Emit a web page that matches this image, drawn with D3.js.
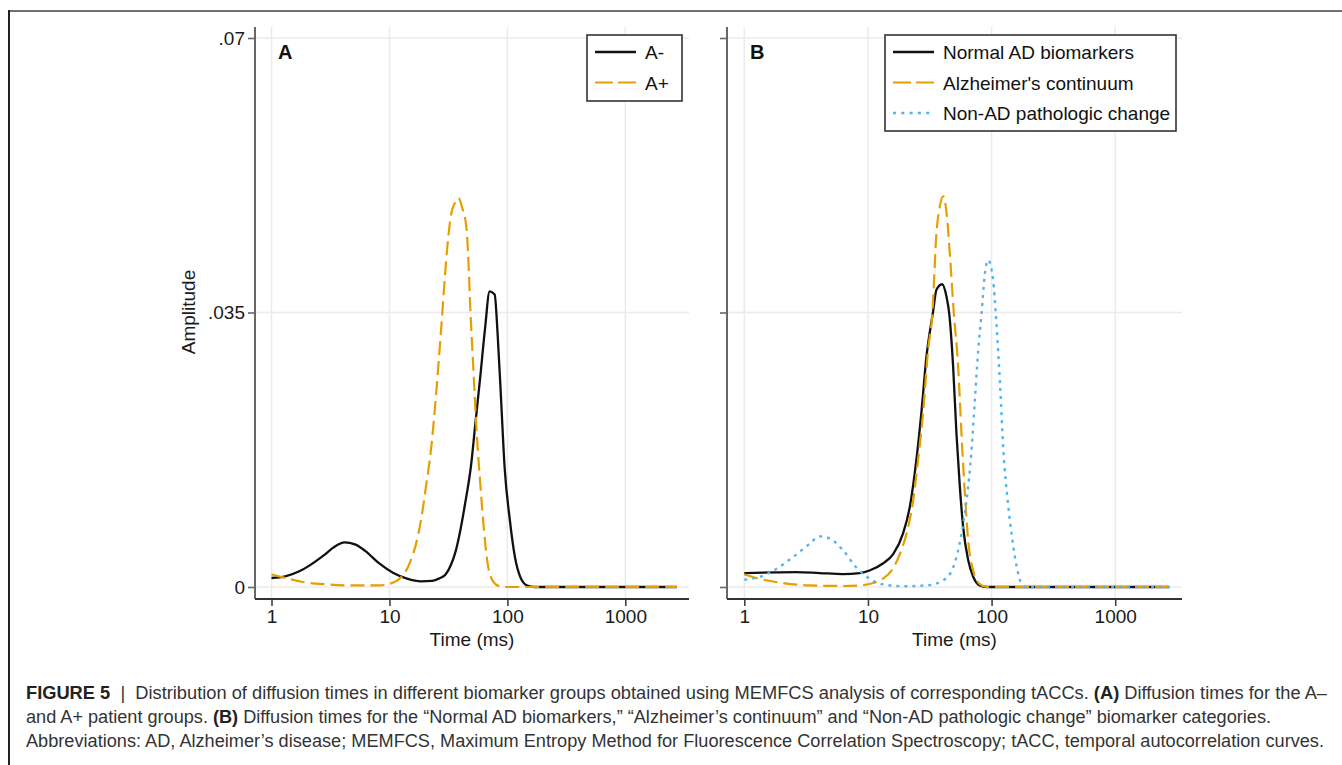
<!DOCTYPE html>
<html>
<head>
<meta charset="utf-8">
<script src="https://cdn.jsdelivr.net/npm/d3@7"></script>
<style>
  html, body { margin: 0; padding: 0; background: #fff; }
  svg { display: block; }
  text { font-family: "Liberation Sans", Arial, Helvetica, sans-serif; }
</style>
</head>
<body>
<svg id="fig" width="1342" height="765"></svg>
<script>
// ---- axis ticks ----
const xTicks = [1, 10, 100, 1000];
const xTickLabels = ["1", "10", "100", "1000"];
const yTicks = [0, 0.035, 0.07];
const yTickLabels = ["0", ".035", ".07"];

// ---- panel A: diffusion-time distributions, [time (ms), amplitude] ----
const aNegative = [
  [1, 0.00115], [1.31, 0.00136], [1.72, 0.0020], [2.11, 0.00276], [2.77, 0.00403],
  [3.40, 0.0051], [4.16, 0.00568], [5.1, 0.00543], [6.26, 0.00458], [8.2, 0.0030],
  [10.8, 0.00178], [14.1, 0.00106], [18.5, 0.00072], [23, 0.00078], [26.5, 0.0011],
  [29.9, 0.0016], [33, 0.0027], [36.5, 0.0046], [40, 0.0073], [44, 0.0108],
  [49, 0.0153], [53.5, 0.0208], [58.7, 0.0266], [64.7, 0.0330], [70.7, 0.0377],
  [78, 0.0373], [82.7, 0.0322], [88.5, 0.0238], [94.7, 0.0153], [105, 0.0085],
  [116, 0.0038], [128.5, 0.0013], [147, 0.0002], [169, 0], [300, 0], [600, 0],
  [1200, 0], [2735, 0]
];
const aPositive = [
  [1, 0.0016], [1.31, 0.00115], [1.84, 0.00064], [2.97, 0.00034], [4.77, 0.0002],
  [8.2, 0.0002], [10, 0.0004], [11.8, 0.0009], [13.5, 0.0018], [15, 0.0032],
  [16.8, 0.0055], [18.5, 0.0085], [20.5, 0.0130], [22.5, 0.0175], [25, 0.0250],
  [27.4, 0.0328], [30.8, 0.0430], [33.3, 0.0475], [36, 0.0490], [38.5, 0.0496],
  [41.3, 0.0484], [44.9, 0.0459], [46.4, 0.0426], [48.7, 0.0349], [51.4, 0.028],
  [55, 0.0195], [58.9, 0.0132], [63, 0.0076], [67.4, 0.0034], [74.7, 0.00085],
  [85.5, 0.0001], [95, 0], [300, 0], [600, 0], [1200, 0], [2735, 0]
];

// ---- panel B: biomarker categories ----
const normalAD = [
  [1, 0.00178], [1.81, 0.00187], [2.62, 0.0019], [4.06, 0.00178], [6.27, 0.00165],
  [8.56, 0.00178], [10.3, 0.0021], [13.2, 0.003], [16, 0.0042], [19.2, 0.0068],
  [21.8, 0.0102], [24.6, 0.0161], [27, 0.0221], [29.7, 0.0293], [33.7, 0.0352],
  [35.8, 0.0379], [39.8, 0.0386], [43.2, 0.037], [45.4, 0.0349], [48.9, 0.028],
  [52, 0.0195], [55.4, 0.0127], [58.9, 0.0076], [64.7, 0.0034], [71, 0.0013],
  [80, 0.0002], [91, 0], [300, 0], [600, 0], [1200, 0], [2735, 0]
];
const alzContinuum = [
  [1, 0.0016], [1.32, 0.00106], [2.05, 0.0005], [3.37, 0.0002], [6.27, 0.00013],
  [8.56, 0.0002], [11, 0.0005], [13.2, 0.00106], [15.5, 0.0021], [18.1, 0.0042],
  [20.5, 0.0068], [23.2, 0.011], [25.4, 0.0161], [27.9, 0.0221], [30.6, 0.0301],
  [33.2, 0.0349], [35.8, 0.0451], [38.1, 0.0485], [40.6, 0.0498], [43.7, 0.047],
  [45.9, 0.0426], [49.5, 0.0349], [53.7, 0.028], [57.1, 0.0195], [60.8, 0.0119],
  [64.7, 0.0059], [71, 0.0021], [80, 0.0004], [91, 0], [300, 0], [600, 0],
  [1200, 0], [2735, 0]
];
const nonAD = [
  [1, 0.00093], [1.32, 0.00127], [1.81, 0.0023], [2.47, 0.0038], [3.37, 0.0055],
  [4.06, 0.00645], [4.89, 0.0062], [6.27, 0.0047], [8.04, 0.0025], [10.3, 0.00106],
  [13.2, 0.00034], [19.2, 0.0001], [29.7, 0.0002], [40.6, 0.00085], [48.9, 0.0025],
  [57.1, 0.0068], [62.7, 0.011], [68.8, 0.0174], [73.2, 0.0238], [77.9, 0.0301],
  [83, 0.0349], [88.3, 0.04], [94, 0.0417], [100, 0.0404], [103, 0.0391],
  [108, 0.0349], [117, 0.0259], [124.5, 0.0174], [135, 0.011], [145, 0.0068],
  [160, 0.0025], [175, 0.0004], [190, 0], [400, 0], [800, 0], [1500, 0], [2735, 0]
];

const legendA = ["A-", "A+"];
const legendB = ["Normal AD biomarkers", "Alzheimer's continuum", "Non-AD pathologic change"];

// ---- caption lines: [text, bold] segments ----
const captionLines = [
  [["FIGURE 5", true], ["  |  ", false], ["Distribution of diffusion times in different biomarker groups obtained using MEMFCS analysis of corresponding tACCs. ", false], ["(A)", true], [" Diffusion times for the A\u2013", false]],
  [["and A+ patient groups. ", false], ["(B)", true], [" Diffusion times for the \u201cNormal AD biomarkers,\u201d \u201cAlzheimer\u2019s continuum\u201d and \u201cNon-AD pathologic change\u201d biomarker categories.", false]],
  [["Abbreviations: AD, Alzheimer\u2019s disease; MEMFCS, Maximum Entropy Method for Fluorescence Correlation Spectroscopy; tACC, temporal autocorrelation curves.", false]]
];

// ---- styling ----
const styles = {
  solid:  { color: "#111111", dash: null,    legendDash: null,   width: 2.3 },
  dashed: { color: "#E69F00", dash: "14 6",  legendDash: "18 5", width: 2.2 },
  dotted: { color: "#56B4E9", dash: "3 5",   legendDash: "3 5.3", width: 2.4 }
};

const svg = d3.select("#fig");
svg.append("rect").attr("width", 1342).attr("height", 765).attr("fill", "#fff");

// page frame
svg.append("line").attr("x1", 9).attr("x2", 1342).attr("y1", 11).attr("y2", 11)
  .attr("stroke", "#707070").attr("stroke-width", 2);
svg.append("line").attr("x1", 9).attr("x2", 9).attr("y1", 10).attr("y2", 765)
  .attr("stroke", "#222").attr("stroke-width", 2);

const plotTop = 27, plotBottom = 599;
const xDomain = [Math.pow(10, -0.14), Math.pow(10, 3.54)];
const y = d3.scaleLinear().domain([-0.00153, 0.0714]).range([plotBottom, plotTop]);

const FONT = 19;

function drawPanel(cfg) {
  const g = svg.append("g");
  const x = d3.scaleLog().domain(xDomain).range([cfg.left, cfg.right]);

  // grid
  g.selectAll(".gx").data(xTicks).join("line")
    .attr("x1", d => x(d)).attr("x2", d => x(d))
    .attr("y1", plotTop).attr("y2", plotBottom)
    .attr("stroke", "#ebebeb").attr("stroke-width", 1.5);
  g.selectAll(".gy").data(yTicks).join("line")
    .attr("x1", cfg.left).attr("x2", cfg.right)
    .attr("y1", d => y(d)).attr("y2", d => y(d))
    .attr("stroke", "#ebebeb").attr("stroke-width", 1.5);

  // y axis
  const yAxis = d3.axisLeft(y).tickValues(yTicks).tickSize(7).tickPadding(3)
    .tickFormat((d, i) => cfg.yLabels ? yTickLabels[i] : "");
  const ya = g.append("g").attr("transform", `translate(${cfg.left},0)`).call(yAxis);
  ya.select(".domain").remove();
  ya.append("line").attr("x1", 0).attr("x2", 0).attr("y1", plotTop).attr("y2", plotBottom)
    .attr("stroke", "#666").attr("stroke-width", 2);
  ya.selectAll(".tick line").attr("stroke", "#666").attr("stroke-width", 1.6);
  ya.selectAll(".tick text").attr("font-size", FONT).attr("fill", "#1a1a1a")
    .attr("font-family", "Liberation Sans, Arial, sans-serif");

  // x axis
  const xAxis = d3.axisBottom(x).tickValues(xTicks).tickSize(7).tickPadding(4)
    .tickFormat((d, i) => xTickLabels[i]);
  const xa = g.append("g").attr("transform", `translate(0,${plotBottom})`).call(xAxis);
  xa.select(".domain").remove();
  xa.append("line").attr("x1", cfg.left).attr("x2", cfg.right).attr("y1", 0).attr("y2", 0)
    .attr("stroke", "#333").attr("stroke-width", 2);
  xa.selectAll(".tick line").attr("stroke", "#444").attr("stroke-width", 1.6);
  xa.selectAll(".tick text").attr("font-size", FONT).attr("fill", "#1a1a1a")
    .attr("font-family", "Liberation Sans, Arial, sans-serif");

  // axis title
  g.append("text").attr("x", (cfg.left + cfg.right) / 2).attr("y", 646)
    .attr("text-anchor", "middle").attr("font-size", FONT).attr("fill", "#1a1a1a")
    .text("Time (ms)");

  // panel letter
  g.append("text").attr("x", cfg.left + cfg.letterDx).attr("y", 59)
    .attr("font-size", 20).attr("font-weight", "bold").attr("fill", "#111")
    .text(cfg.letter);

  // curves
  const line = d3.line().x(d => x(d[0])).y(d => y(d[1])).curve(d3.curveMonotoneX);
  cfg.series.forEach(s => {
    const st = styles[s.style];
    g.append("path").datum(s.data)
      .attr("d", line)
      .attr("fill", "none")
      .attr("stroke", st.color)
      .attr("stroke-width", st.width)
      .attr("stroke-linejoin", "round")
      .attr("stroke-dasharray", st.dash);
  });

  // legend
  const lg = cfg.legend;
  g.append("rect").attr("x", lg.x).attr("y", lg.y).attr("width", lg.w).attr("height", lg.h)
    .attr("fill", "#fff").attr("stroke", "#333").attr("stroke-width", 1.6);
  cfg.series.forEach((s, i) => {
    const st = styles[s.style];
    const yy = lg.y + 17 + i * 30.5;
    g.append("line").attr("x1", lg.x + 8).attr("x2", lg.x + 49)
      .attr("y1", yy).attr("y2", yy)
      .attr("stroke", st.color).attr("stroke-width", st.width)
      .attr("stroke-dasharray", st.legendDash);
    g.append("text").attr("x", lg.x + 58).attr("y", yy + 7)
      .attr("font-size", FONT).attr("fill", "#111").text(s.label);
  });
}

drawPanel({
  left: 255, right: 689, yLabels: true, letter: "A", letterDx: 23,
  legend: { x: 587, y: 35, w: 95, h: 66 },
  series: [
    { data: aNegative, style: "solid", label: legendA[0] },
    { data: aPositive, style: "dashed", label: legendA[1] }
  ]
});
drawPanel({
  left: 727, right: 1182, yLabels: false, letter: "B", letterDx: 23,
  legend: { x: 885, y: 35, w: 291, h: 96 },
  series: [
    { data: normalAD, style: "solid", label: legendB[0] },
    { data: alzContinuum, style: "dashed", label: legendB[1] },
    { data: nonAD, style: "dotted", label: legendB[2] }
  ]
});

// y-axis title
svg.append("text")
  .attr("transform", "translate(195,312) rotate(-90)")
  .attr("text-anchor", "middle").attr("font-size", FONT).attr("fill", "#1a1a1a")
  .text("Amplitude");

// caption
const captionWidths = [1301, 1245, 1298];
const captionBase = [699, 723, 747];
captionLines.forEach((segs, i) => {
  const t = svg.append("text")
    .attr("x", 26).attr("y", captionBase[i])
    .attr("font-family", "'Liberation Sans Narrow', 'Liberation Sans', Arial, sans-serif")
    .attr("font-size", 17.5).attr("fill", "#333")
    .attr("xml:space", "preserve")
    .style("white-space", "pre")
    .attr("textLength", captionWidths[i])
    .attr("lengthAdjust", "spacingAndGlyphs");
  segs.forEach(([txt, bold]) => {
    t.append("tspan").attr("font-weight", bold ? "bold" : "normal")
      .attr("fill", bold ? "#222" : "#333").text(txt);
  });
});
</script>
</body>
</html>
